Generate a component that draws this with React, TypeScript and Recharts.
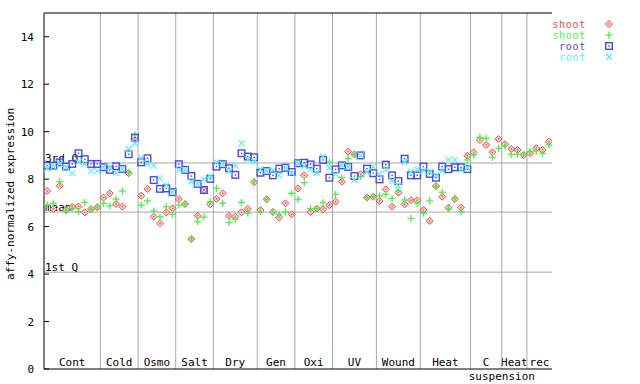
import { ScatterChart, Scatter, XAxis, YAxis, ReferenceLine, ReferenceArea } from 'recharts'

const FONT = '"DejaVu Sans Mono", monospace'
const RED = '#f04848'
const GREEN = '#48f048'
const BLUE = '#4848f0'
const CYAN = '#5cf0f0'
const GRID = '#a8a8a8'

const CATEGORIES = ['Cont', 'Cold', 'Osmo', 'Salt', 'Dry', 'Gen', 'Oxi', 'UV', 'Wound', 'Heat', 'C suspension', 'Heat', 'rec']
const COUNTS = [9, 6, 6, 6, 7, 6, 6, 7, 7, 8, 5, 4, 4]
const Y_TICKS = [0, 2, 4, 6, 8, 10, 12, 14]

const THIRD_Q = 8.68
const MEAN = 6.61
const FIRST_Q = 4.08

// shoot (red diamonds)
const SHOOT_RED = [
  7.5, 6.74, 7.72, 6.7, 6.83, 6.85, 6.6, 6.74, 6.82,
  7.22, 7.4, 6.95, 6.84, 8.25, 9.65,
  7.3, 7.59, 6.42, 6.14, 6.6, 6.77,
  7.16, 6.95, 5.48, 6.46, 7.54, 6.94,
  7.16, 7.4, 6.45, 6.42, 6.6, 6.74, 7.87,
  6.7, 7.15, 6.62, 6.38, 6.98, 6.52,
  7.61, 8.16, 6.62, 6.76, 6.73, 6.9,
  7.05, 7.89, 9.16, 9.04, 8.2, 7.22, 7.26,
  7.08, 7.57, 6.84, 7.43, 6.94, 7.11, 7.11,
  6.7, 6.24, 7.71, 7.26, 6.8, 7.16, 6.8, 8.98,
  9.13, 9.65, 9.44, 9.13, 9.69,
  9.47, 9.27, 9.23, 9.02,
  9.09, 9.3, 9.23, 9.58,
]
// shoot (green plus)
const SHOOT_GREEN = [
  6.91, 6.97, 7.89, 6.66, 6.77, 6.63, 7.02, 6.72, 6.83,
  6.98, 6.87, 7.16, 7.5, 8.29, 9.86,
  6.91, 7.08, 6.66, 6.42, 6.84, 6.52,
  6.91, 6.95, 5.48, 6.21, 6.4, 7.05,
  7.61, 6.98, 6.17, 6.31, 7.02, 6.56, 7.91,
  6.63, 7.15, 6.59, 6.52, 6.62, 7.4,
  7.15, 7.85, 6.76, 6.76, 7.01, 8.72,
  7.36, 8.06, 8.86, 9.04, 8.11, 7.22, 7.26,
  7.29, 7.36, 7.18, 7.5, 7.12, 6.34, 6.98,
  6.56, 7.08, 7.69, 7.45, 6.75, 7.19, 6.63, 8.81,
  9.02, 9.76, 9.72, 8.92, 9.3,
  9.4, 9.05, 9.05, 9.05,
  9.16, 9.19, 9.09, 9.44,
]
// root (blue squares)
const ROOT_BLUE = [
  8.57, 8.57, 8.71, 8.53, 8.64, 9.09, 8.84, 8.64, 8.64,
  8.5, 8.39, 8.54, 8.43, 9.05, 9.75,
  8.71, 8.88, 7.96, 7.59, 7.61, 7.45,
  8.63, 8.39, 8.13, 7.8, 7.54, 8.01,
  8.53, 8.63, 8.46, 8.18, 9.09, 8.95, 8.92,
  8.27, 8.34, 8.16, 8.44, 8.48, 8.3,
  8.67, 8.69, 8.62, 8.44, 8.81, 8.06,
  8.41, 8.58, 8.51, 8.13, 9.0, 8.44, 8.25,
  7.99, 8.61, 8.16, 7.92, 8.86, 8.16, 8.16,
  8.53, 8.22, 8.06, 8.53, 8.42, 8.5, 8.5, 8.42,
  null, null, null, null, null,
  null, null, null, null,
  null, null, null, null,
]
// root (cyan crosses)
const ROOT_CYAN = [
  8.46, 8.55, 8.66, 8.5, 8.25, 8.72, 8.64, 8.34, 8.34,
  8.5, 8.5, 8.25, 8.43, 9.27, 9.51,
  8.88, 8.64, 8.57, 8.04, 7.75, 7.45,
  8.39, 8.39, 7.89, 7.8, 7.98, 8.1,
  8.71, 8.63, 8.35, 8.57, 9.51, 8.84, 8.74,
  8.41, 8.34, 8.39, 8.16, 8.48, 8.25,
  8.67, 8.55, 8.41, 8.27, 8.95, 8.48,
  8.2, 8.58, 8.51, 7.96, 9.0, 8.3, 8.53,
  8.2, 8.41, 7.92, 7.71, 8.72, 8.3, 8.41,
  8.35, 8.3, 8.15, 8.35, 8.81, 8.81, 8.42, 8.48,
  null, null, null, null, null,
  null, null, null, null,
  null, null, null, null,
]

const TOTAL = COUNTS.reduce((a, b) => a + b, 0)
const BOUNDS = COUNTS.reduce<number[]>((acc, c) => [...acc, acc[acc.length - 1] + c], [0])

function toPoints(values: (number | null)[]) {
  return values
    .map((y, i) => ({ x: i + 0.5, y }))
    .filter((d) => d.y !== null)
}

// marker shapes
const Diamond = ({ cx, cy, color = RED }: any) => (
  <g>
    <polygon
      points={`${cx},${cy - 3.5} ${cx + 3.5},${cy} ${cx},${cy + 3.5} ${cx - 3.5},${cy}`}
      fill="#ffd0d0"
      stroke={color}
      strokeWidth={1}
    />
    <rect x={cx - 0.7} y={cy - 0.7} width={1.4} height={1.4} fill={color} />
  </g>
)
const Plus = ({ cx, cy, color = GREEN }: any) => (
  <g stroke={color} strokeWidth={1.3}>
    <line x1={cx - 3.5} x2={cx + 3.5} y1={cy} y2={cy} />
    <line x1={cx} x2={cx} y1={cy - 3.5} y2={cy + 3.5} />
  </g>
)
const Square = ({ cx, cy, color = BLUE }: any) => (
  <g>
    <rect x={cx - 3.3} y={cy - 3.3} width={6.6} height={6.6} fill="none" stroke={color} strokeWidth={1.4} />
    <rect x={cx - 0.7} y={cy - 0.7} width={1.4} height={1.4} fill={color} />
  </g>
)
const Cross = ({ cx, cy, color = CYAN }: any) => (
  <g stroke={color} strokeWidth={1.2}>
    <line x1={cx - 3} x2={cx + 3} y1={cy - 3} y2={cy + 3} />
    <line x1={cx - 3} x2={cx + 3} y1={cy + 3} y2={cy - 3} />
  </g>
)

const LEGEND = [
  { name: 'shoot', color: RED, Shape: Diamond },
  { name: 'shoot', color: GREEN, Shape: Plus },
  { name: 'root', color: BLUE, Shape: Square },
  { name: 'root', color: CYAN, Shape: Cross },
]

function LeftTick({ x, y, payload }: any) {
  return (
    <g>
      <line x1={x} x2={x + 5} y1={y} y2={y} stroke="#000" />
      <text x={x - 10} y={y} dy={4} textAnchor="end" fontFamily={FONT} fontSize={11} fill="#000">
        {payload.value}
      </text>
    </g>
  )
}

function RightTick({ x, y }: any) {
  return <line x1={x - 5} x2={x} y1={y} y2={y} stroke="#000" />
}

function AxisTitle({ viewBox }: any) {
  const cx = viewBox.x + 9.5
  const cy = viewBox.y + viewBox.height / 2 + 3
  return (
    <text
      x={cx}
      y={cy}
      transform={`rotate(-90 ${cx} ${cy})`}
      textAnchor="middle"
      fontFamily={FONT}
      fontSize={11}
      fill="#000"
    >
      affy-normalized expression
    </text>
  )
}

function quartileLabel(text: string) {
  return ({ viewBox }: any) => (
    <text x={viewBox.x + 1} y={viewBox.y - 1} fontFamily={FONT} fontSize={11} fill="#000">
      {text}
    </text>
  )
}

function categoryLabel(name: string) {
  const [first, ...rest] = name.split(' ')
  return ({ viewBox }: any) => (
    <g fontFamily={FONT} fontSize={11} fill="#000">
      <text x={viewBox.x + viewBox.width / 2} y={viewBox.y + viewBox.height - 3} textAnchor="middle">
        {first}
      </text>
      {rest.length > 0 && (
        <text x={viewBox.x + viewBox.width} y={viewBox.y + viewBox.height + 11} textAnchor="middle">
          {rest.join(' ')}
        </text>
      )}
    </g>
  )
}

export default function App() {
  return (
    <div style={{ position: 'fixed', left: 0, top: 0, width: 640, height: 384, background: '#fff' }}>
      <ScatterChart width={640} height={384} margin={{ top: 13, right: 88, bottom: 15, left: 4 }}>
        <XAxis type="number" dataKey="x" domain={[0, TOTAL]} hide allowDataOverflow />
        <YAxis
          type="number"
          dataKey="y"
          domain={[0, 15]}
          ticks={Y_TICKS}
          interval={0}
          width={40}
          axisLine={{ stroke: '#000' }}
          tickLine={false}
          tickSize={0}
          tickMargin={0}
          tick={<LeftTick />}
          label={<AxisTitle />}
          allowDataOverflow
        />
        <YAxis
          yAxisId="r"
          orientation="right"
          type="number"
          domain={[0, 15]}
          ticks={Y_TICKS}
          interval={0}
          width={0}
          axisLine={{ stroke: '#000' }}
          tickLine={false}
          tickSize={0}
          tickMargin={0}
          tick={<RightTick />}
          allowDataOverflow
        />

        {BOUNDS.slice(1, -1).map((b) => (
          <ReferenceLine key={'v' + b} x={b} stroke={GRID} />
        ))}
        <ReferenceLine y={THIRD_Q} stroke={GRID} label={quartileLabel('3rd Q')} />
        <ReferenceLine y={MEAN} stroke={GRID} label={quartileLabel('mean')} />
        <ReferenceLine y={FIRST_Q} stroke={GRID} label={quartileLabel('1st Q')} />
        <ReferenceLine y={15} stroke="#000" />
        <ReferenceLine y={0} stroke="#000" />

        {CATEGORIES.map((name, i) => (
          <ReferenceArea
            key={'c' + i}
            x1={BOUNDS[i]}
            x2={BOUNDS[i + 1]}
            y1={0}
            y2={15}
            fill="none"
            fillOpacity={0}
            stroke="none"
            label={categoryLabel(name)}
          />
        ))}

        <Scatter data={toPoints(SHOOT_RED)} dataKey="y" shape={<Diamond />} isAnimationActive={false} />
        <Scatter data={toPoints(SHOOT_GREEN)} dataKey="y" shape={<Plus />} isAnimationActive={false} />
        <Scatter data={toPoints(ROOT_BLUE)} dataKey="y" shape={<Square />} isAnimationActive={false} />
        <Scatter data={toPoints(ROOT_CYAN)} dataKey="y" shape={<Cross />} isAnimationActive={false} />
      </ScatterChart>

      {/* legend, top right */}
      <svg width={640} height={70} style={{ position: 'absolute', left: 0, top: 0 }}>
        {LEGEND.map(({ name, color, Shape }, i) => (
          <g key={i}>
            <text
              x={586}
              y={24 + i * 11 + 3.5}
              textAnchor="end"
              fontFamily={FONT}
              fontSize={10}
              letterSpacing={0.7}
              fill={color}
            >
              {name}
            </text>
            <Shape cx={609} cy={24 + i * 11} color={color} />
          </g>
        ))}
      </svg>
    </div>
  )
}
